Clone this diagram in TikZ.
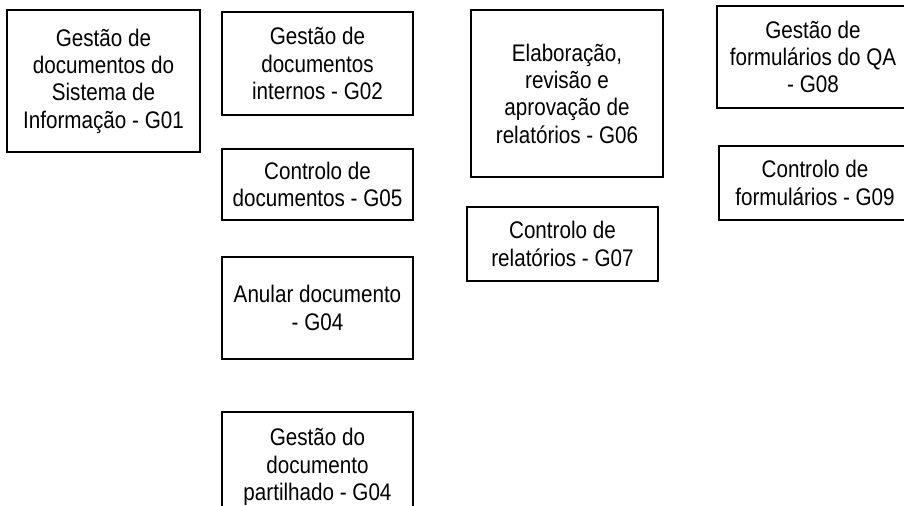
\documentclass[tikz,border=0pt]{standalone}
\usepackage{fontspec}
\setmainfont{Liberation Sans}[FakeStretch=0.86]
\usepackage{tikz}
\usetikzlibrary{positioning}
\tikzstyle{gbox} = [rectangle, draw=black, line width=1.5pt, fill=white,
    minimum width=143.5pt, inner sep=0pt, align=center,
    font=\fontsize{18}{20.5}\selectfont]

\begin{document}
\begin{tikzpicture}[x=0.75pt, y=-0.75pt, node distance=24pt]
\clip (0,0) rectangle (904,506);
\fill[white] (0,0) rectangle (904,506);
% coluna 1
\node[gbox, minimum width=144.75pt, minimum height=106.5pt] (g01) at (103.5,81)
    {Gestão de\\documentos do\\Sistema de\\Informação - G01};
% coluna 2
\node[gbox, minimum height=77.25pt] (g02) at (317.5,63.5)
    {Gestão de\\documentos\\internos - G02};
\node[gbox, minimum height=53.25pt, below=24pt of g02] (g05)
    {Controlo de\\documentos - G05};
\node[gbox, minimum height=76.5pt, below=26.25pt of g05] (g04a)
    {Anular documento\\- G04};
\node[gbox, minimum height=82.5pt, below=38.25pt of g04a] (g04b)
    {Gestão do\\documento\\partilhado - G04};
% coluna 3
\node[gbox, minimum height=125.25pt] (g06) at (567,93.5)
    {Elaboração,\\revisão e\\aprovação de\\relatórios - G06};
\node[gbox, minimum height=55.5pt, below=21pt of g06, xshift=-3.4pt] (g07)
    {Controlo de\\relatórios - G07};
% coluna 4
\node[gbox, minimum height=76.5pt] (g08) at (813,57)
    {Gestão de\\formulários do QA\\- G08};
\node[gbox, minimum height=55.5pt, below=27pt of g08, xshift=1.5pt] (g09)
    {Controlo de\\formulários - G09};
\end{tikzpicture}
\end{document}
